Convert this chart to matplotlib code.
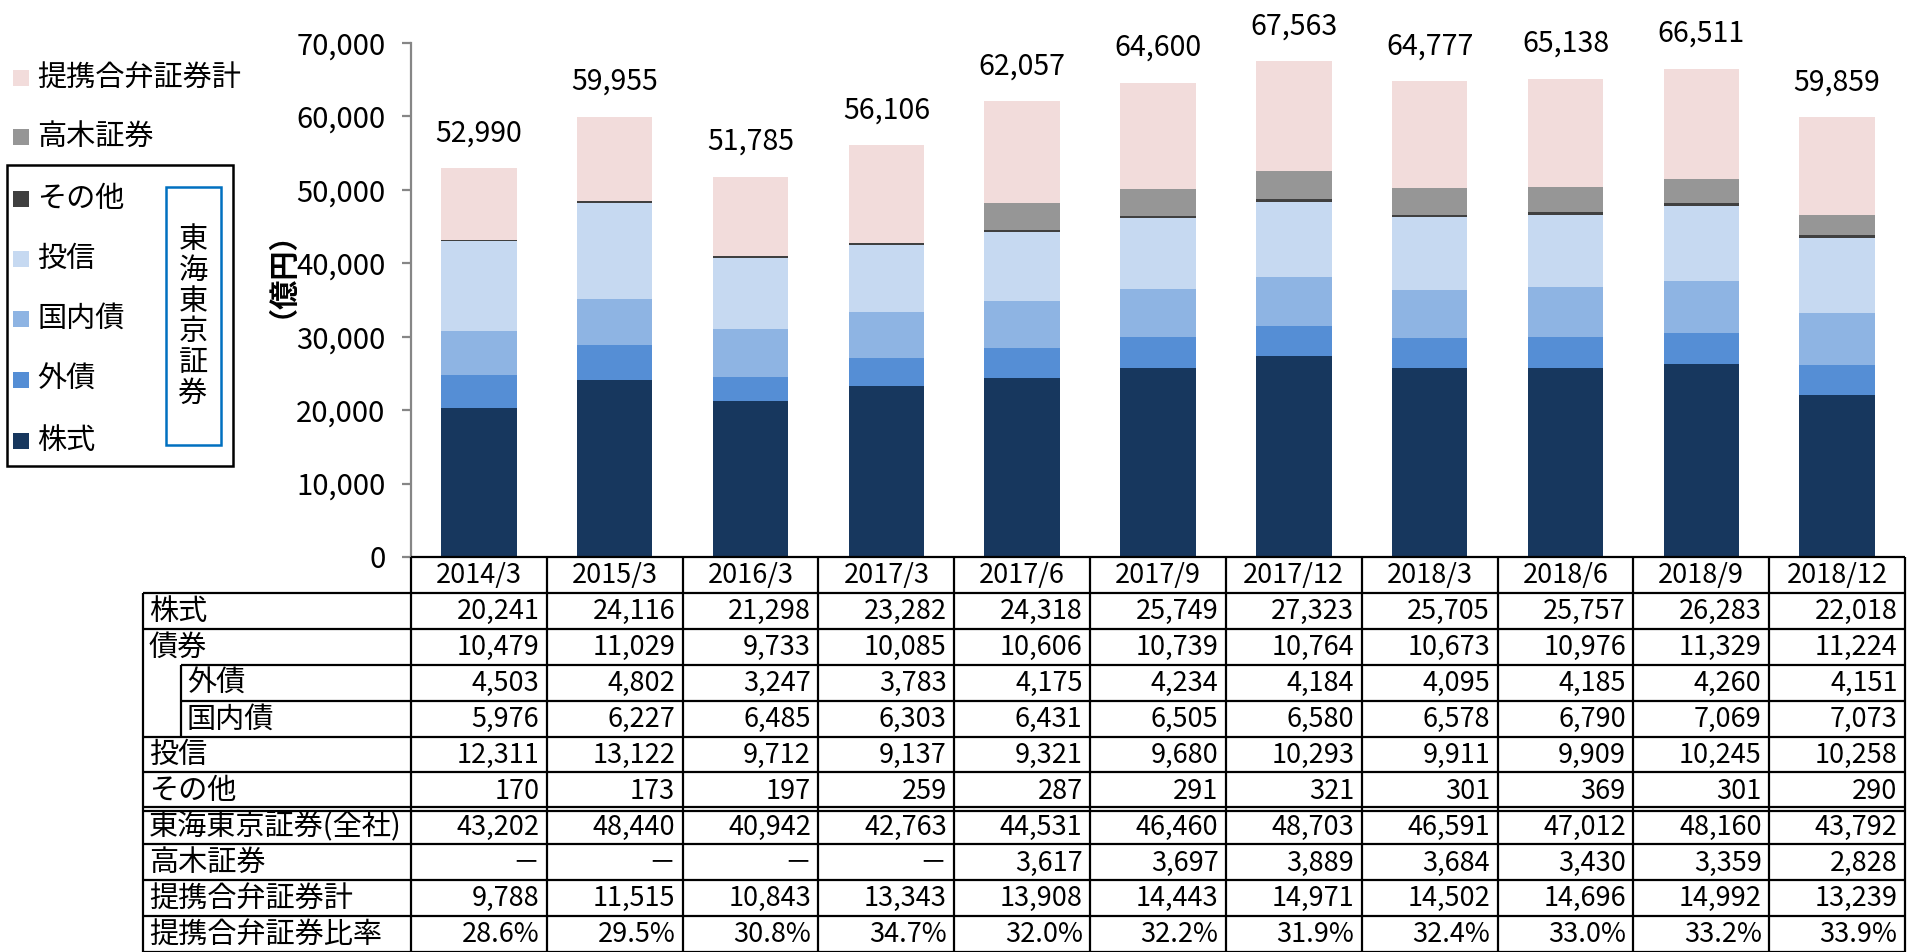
import matplotlib
matplotlib.use("Agg")
import matplotlib.pyplot as plt
from matplotlib.patches import Rectangle
import numpy as np

plt.rcParams['font.family'] = ['Noto Sans CJK JP', 'DejaVu Sans']

# ---------------- data ----------------
categories = ['2014/3', '2015/3', '2016/3', '2017/3', '2017/6', '2017/9',
              '2017/12', '2018/3', '2018/6', '2018/9', '2018/12']
kabushiki = [20241, 24116, 21298, 23282, 24318, 25749, 27323, 25705, 25757, 26283, 22018]
saiken = [10479, 11029, 9733, 10085, 10606, 10739, 10764, 10673, 10976, 11329, 11224]
gaisai = [4503, 4802, 3247, 3783, 4175, 4234, 4184, 4095, 4185, 4260, 4151]
kokunaisai = [5976, 6227, 6485, 6303, 6431, 6505, 6580, 6578, 6790, 7069, 7073]
toushin = [12311, 13122, 9712, 9137, 9321, 9680, 10293, 9911, 9909, 10245, 10258]
sonota = [170, 173, 197, 259, 287, 291, 321, 301, 369, 301, 290]
tokai_total = [43202, 48440, 40942, 42763, 44531, 46460, 48703, 46591, 47012, 48160, 43792]
takagi = [None, None, None, None, 3617, 3697, 3889, 3684, 3430, 3359, 2828]
teikei = [9788, 11515, 10843, 13343, 13908, 14443, 14971, 14502, 14696, 14992, 13239]
ratio = [28.6, 29.5, 30.8, 34.7, 32.0, 32.2, 31.9, 32.4, 33.0, 33.2, 33.9]
totals = [52990, 59955, 51785, 56106, 62057, 64600, 67563, 64777, 65138, 66511, 59859]

series_names = ['株式', '外債', '国内債', '投信', 'その他', '高木証券', '提携合弁証券計']
series_colors = ['#17375E', '#558ED5', '#8EB4E3', '#C6D9F1', '#404040', '#969696', '#F2DCDB']
yticks = [0, 10000, 20000, 30000, 40000, 50000, 60000, 70000]
ylabel = '（億円）'
box_label = '東海東京証券'

# ---------------- figure ----------------
W, H = 1907, 952
fig = plt.figure(figsize=(W / 100, H / 100), dpi=100)

ax_left = 411 / W
ax_right = 1905 / W
y0_px = 557
ytop_px = 43
ax = fig.add_axes([ax_left, (H - y0_px) / H, ax_right - ax_left, (y0_px - ytop_px) / H])

x = np.arange(len(categories))
bw = 0.555
stack = [kabushiki, gaisai, kokunaisai, toushin, sonota,
         [v if v is not None else 0 for v in takagi], teikei]
bottom = np.zeros(len(categories))
for vals, name, col in zip(stack, series_names, series_colors):
    vals = np.array(vals, dtype=float)
    ax.bar(x, vals, bw, bottom=bottom, color=col, label=name, linewidth=0)
    bottom = bottom + vals

for xi, top, lab in zip(x, bottom, totals):
    ax.annotate(f'{lab:,}', (xi, top), xytext=(0, 25), textcoords='offset points',
                ha='center', va='center', fontsize=20.5, color='black')

ax.set_xlim(-0.5, len(categories) - 0.5)
ax.set_ylim(0, 70000)
ax.set_yticks(yticks)
ax.set_yticklabels([f'{t:,}' for t in yticks], fontsize=21)
ax.set_xticks([])
for s in ['top', 'right', 'bottom']:
    ax.spines[s].set_visible(False)
ax.spines['left'].set_color('#868686')
ax.spines['left'].set_linewidth(1.6)
ax.tick_params(axis='y', direction='out', length=6.5, width=1.6, color='#868686', pad=12)

# y label
fig.text(267 / W, 1 - 260 / H, ylabel, rotation=90, ha='center', va='center',
         fontsize=21, fontweight='bold')

# ---------------- table ----------------
tab_h = (H - y0_px) / H
tax = fig.add_axes([ax_left, 0, ax_right - ax_left, tab_h])
tax.set_xlim(-0.5, len(categories) - 0.5)
tax.set_ylim(11, 0)
tax.axis('off')

lw = 1.6
lab_left = -2.47
indent = -2.19
xr = len(categories) - 0.5


def hline(y, x0, x1):
    tax.plot([x0, x1], [y, y], color='black', lw=lw, clip_on=False, solid_capstyle='butt')


def vline(xv, y0, y1):
    tax.plot([xv, xv], [y0, y1], color='black', lw=lw, clip_on=False, solid_capstyle='butt')


hline(0.0, -0.5, xr)
hline(1, lab_left, xr)
hline(2, lab_left, xr)
hline(3, indent, xr)
hline(4, indent, xr)
hline(5, lab_left, xr)
hline(6, lab_left, xr)
hline(6.96, lab_left, xr)
hline(7.06, lab_left, xr)
hline(8, lab_left, xr)
hline(9, lab_left, xr)
hline(10, lab_left, xr)
hline(10.99, lab_left, xr)
vline(lab_left, 1, 11)
vline(indent, 3, 5)
for k in range(len(categories) + 1):
    vline(-0.5 + k, 0, 11)

fs = 19.5
fs_lab = 21
for i, c in enumerate(categories):
    tax.text(i, 0.52, c, ha='center', va='center', fontsize=fs)


def fmt(v):
    return '－' if v is None else f'{v:,}'


rows = [
    ('株式', kabushiki, lab_left, fmt),
    ('債券', saiken, lab_left, fmt),
    ('外債', gaisai, indent, fmt),
    ('国内債', kokunaisai, indent, fmt),
    ('投信', toushin, lab_left, fmt),
    ('その他', sonota, lab_left, fmt),
    ('東海東京証券(全社)', tokai_total, lab_left, fmt),
    ('高木証券', takagi, lab_left, fmt),
    ('提携合弁証券計', teikei, lab_left, fmt),
    ('提携合弁証券比率', ratio, lab_left, lambda v: f'{v:.1f}%'),
]
for r, (name, vals, xl, f) in enumerate(rows):
    yc = r + 1.52
    tax.text(xl + 0.04, yc, name, ha='left', va='center', fontsize=fs_lab)
    for i, v in enumerate(vals):
        tax.text(i + 0.5 - 0.055, yc, f(v), ha='right', va='center', fontsize=fs)

# ---------------- legend (manual) ----------------
def fx(px):
    return px / W


def fy(py):
    return 1 - py / H


leg_items = [('提携合弁証券計', '#F2DCDB', 78), ('高木証券', '#969696', 137),
             ('その他', '#404040', 199), ('投信', '#C6D9F1', 259),
             ('国内債', '#8EB4E3', 319), ('外債', '#558ED5', 380), ('株式', '#17375E', 441)]
for name, col, yc in leg_items:
    fig.patches.append(Rectangle((fx(13), fy(yc + 8)), 16 / W, 16 / H, transform=fig.transFigure,
                                 facecolor=col, edgecolor='none'))
    fig.text(fx(37), fy(yc), name, ha='left', va='center', fontsize=21)

fig.patches.append(Rectangle((fx(7), fy(466)), 226 / W, 301 / H, transform=fig.transFigure,
                             facecolor='none', edgecolor='black', lw=1.8))
fig.patches.append(Rectangle((fx(166), fy(445)), 55 / W, 258 / H, transform=fig.transFigure,
                             facecolor='none', edgecolor='#0070C0', lw=1.8))
for k, ch in enumerate(box_label):
    fig.text(fx(193), fy(240 + 30.8 * k), ch, ha='center', va='center', fontsize=21)

fig.savefig('out.png', dpi=100)
